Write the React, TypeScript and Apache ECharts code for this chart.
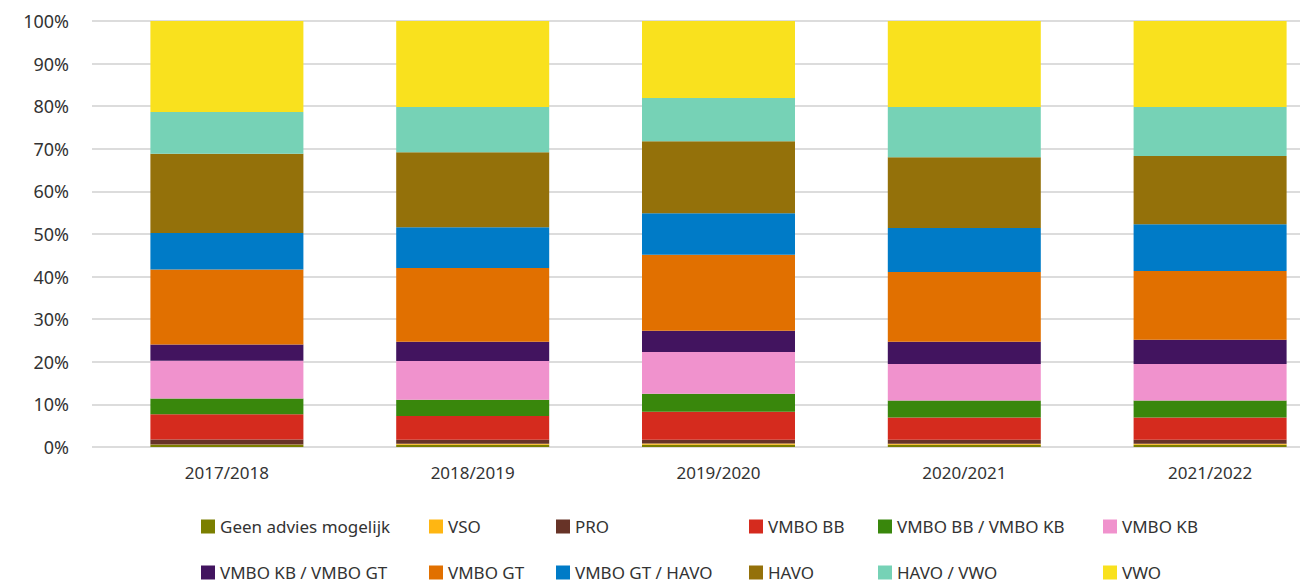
import React, { useEffect, useRef } from "react";
import * as echarts from "echarts";

const categories = ["2017/2018", "2018/2019", "2019/2020", "2020/2021", "2021/2022"];

const seriesNames = [
  "Geen advies mogelijk",
  "VSO",
  "PRO",
  "VMBO BB",
  "VMBO BB / VMBO KB",
  "VMBO KB",
  "VMBO KB / VMBO GT",
  "VMBO GT",
  "VMBO GT / HAVO",
  "HAVO",
  "HAVO / VWO",
  "VWO",
];

const geenAdvies = [0.55, 0.5, 0.55, 0.55, 0.55];
const vso = [0.05, 0.25, 0.25, 0.2, 0.2];
const pro = [1.17, 0.95, 0.9, 0.95, 0.95];
const vmboBB = [5.94, 5.6, 6.6, 5.2, 5.2];
const vmboBBKB = [3.65, 3.8, 4.2, 4.0, 4.0];
const vmboKB = [8.9, 9.1, 9.8, 8.6, 8.6];
const vmboKBGT = [3.8, 4.5, 5.0, 5.2, 5.7];
const vmboGT = [17.6, 17.3, 17.8, 16.4, 16.1];
const vmboGTHavo = [8.6, 9.6, 9.8, 10.3, 11.0];
const havo = [18.55, 17.6, 16.9, 16.6, 16.0];
const havoVwo = [9.85, 10.6, 10.1, 11.8, 11.5];
const vwo = [21.34, 20.2, 18.1, 20.2, 20.2];

const seriesValues = [
  geenAdvies, vso, pro, vmboBB, vmboBBKB, vmboKB,
  vmboKBGT, vmboGT, vmboGTHavo, havo, havoVwo, vwo,
];

const colors = [
  "#7b7f00", "#ffb612", "#673327", "#d52b1e", "#39870c", "#f092cd",
  "#42145f", "#e17000", "#007bc7", "#94710a", "#76d2b6", "#f9e11e",
];

const legendColumnsLeft = [201, 429, 556, 749, 878, 1103];
const legendRowsTop = [518, 564];

const FONT = "'Noto Sans', sans-serif";

export default function App() {
  const ref = useRef<HTMLDivElement>(null);

  useEffect(() => {
    if (!ref.current) return;
    const chart = echarts.init(ref.current, null, { renderer: "svg" });

    const legends = seriesNames.map((name, i) => ({
      orient: "horizontal",
      left: legendColumnsLeft[i % 6],
      top: legendRowsTop[Math.floor(i / 6)],
      padding: 0,
      itemWidth: 14,
      itemHeight: 14,
      icon: "rect",
      selectedMode: false,
      textStyle: { fontFamily: FONT, fontSize: 17, color: "#333" },
      data: [name],
    }));

    chart.setOption({
      animation: false,
      color: colors,
      grid: { left: 104, top: 21, width: 1229, bottom: 136, containLabel: false },
      legend: legends,
      xAxis: {
        type: "category",
        data: categories,
        axisLine: { show: false },
        axisTick: { show: false },
        axisLabel: { fontFamily: FONT, fontSize: 17, color: "#333", margin: 17 },
      },
      yAxis: {
        type: "value",
        min: 0,
        max: 100,
        interval: 10,
        axisLine: { show: false },
        axisTick: { show: true, inside: false, length: 12, lineStyle: { color: "#dcdcdc", width: 2 } },
        axisLabel: { formatter: "{value}%", fontFamily: FONT, fontSize: 18, color: "#333", margin: 35 },
        splitLine: { show: true, lineStyle: { color: "#dcdcdc", width: 2 } },
      },
      series: seriesNames.map((name, i) => ({
        name,
        type: "bar",
        stack: "total",
        barWidth: 153,
        data: seriesValues[i],
        itemStyle: { color: colors[i] },
      })),
    });

    return () => chart.dispose();
  }, []);

  return (
    <div style={{ position: "fixed", left: 0, top: 0, width: 1300, height: 583, overflow: "hidden", background: "#fff" }}>
      <div ref={ref} style={{ width: 1340, height: 583 }} />
    </div>
  );
}
